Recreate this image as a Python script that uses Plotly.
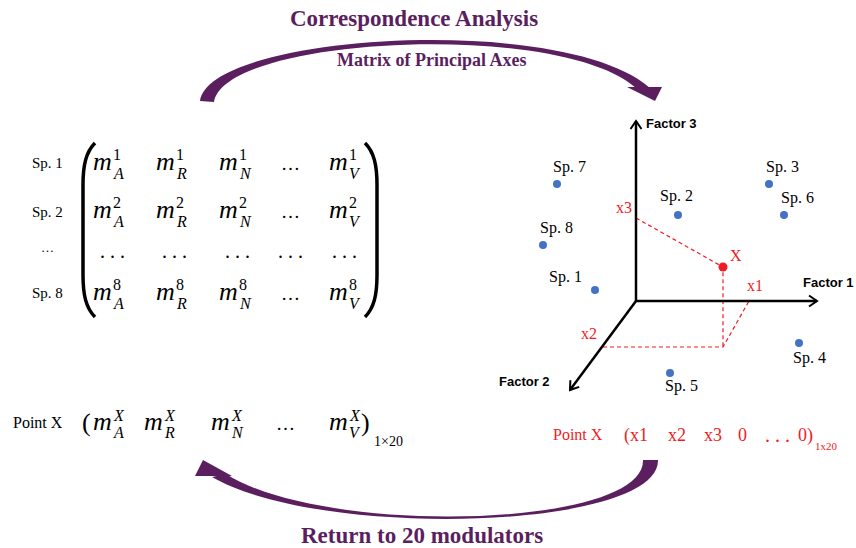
import math
import plotly.graph_objects as go

# ---------------- data ----------------
row_labels = ["Sp. 1", "Sp. 2", "…", "Sp. 8"]
row_sup = ["1", "2", None, "8"]          # None -> row of dots
col_sub = ["A", "R", "N", None, "V"]     # None -> column of dots
point_sup = "X"
point_dim = "1×20"

species = ["Sp. 1", "Sp. 2", "Sp. 3", "Sp. 4", "Sp. 5", "Sp. 6", "Sp. 7", "Sp. 8"]
sp_x = [595, 678, 769, 799, 670, 784, 557, 543]
sp_y = [290, 215, 184, 343, 373, 215, 184, 245]

point_x, point_y = 723, 267
proj_names = ["x1", "x2", "x3"]
proj_x = [749, 603, 636]
proj_y = [301, 347, 218]
foot_x, foot_y = 723, 347

red_tokens = ["(x1", "x2", "x3", "0", ". . .", "0)"]

title_top = "Correspondence Analysis"
subtitle_top = "Matrix of Principal Axes"
title_bottom = "Return to 20 modulators"

# ---------------- style / layout ----------------
W, H = 856, 548
PURPLE = "#5B1F5F"
RED = "#EE1C25"
BLUE = "#4472C4"
SERIF = "Liberation Serif, Times New Roman, serif"
SANS = "Liberation Sans, Arial, sans-serif"

origin = (636, 301)
axis_ends = {"Factor 1": (817, 301), "Factor 2": (570, 390), "Factor 3": (636, 121)}
axis_label_pos = {"Factor 1": (802, 287), "Factor 2": (498, 386), "Factor 3": (645, 128)}

col_x = [102, 165, 228, 290.5, 338]
dots_row_x = [112.5, 174, 237, 290.5, 344]
row_base = [170, 218, 258, 300]
label_base = [168, 217, 252, 298]

sp_label_dx = [-30, -2, 13, 10, 11, 13, 12, 13]
sp_label_dy = [-13, -19, -17, 15, 13, -17, -17, -17]

point_col_x = [102, 153, 220, 285.5, 338]
red_tok_x = [635.5, 677, 712.5, 742.5, 777.5, 805.5]

annotations = []


def txt(x, base, s, size, color="black", family=SERIF, anchor="center",
        bold=False, italic=False, middle=False):
    if italic:
        s = f"<i>{s}</i>"
    if bold:
        s = f"<b>{s}</b>"
    y = base if middle else base - 0.34 * size
    annotations.append(dict(x=x, y=y, text=s, showarrow=False, xanchor=anchor,
                            yanchor="middle", borderpad=0,
                            font=dict(size=size, color=color, family=family)))


fig = go.Figure()

# ---- titles
txt(414, 26.5, title_top, 23, PURPLE, bold=True)
txt(431, 66.5, subtitle_top, 18, PURPLE, bold=True)
txt(422, 543, title_bottom, 23, PURPLE, bold=True)

# ---- curved arrows
shapes = []
shapes.append(dict(type="path", fillcolor=PURPLE, line=dict(width=0),
                   path="M 200,101 C 208,34 565,12 650,88 L 636,88 "
                        "C 560,20 225,36 214,102 Z"))
shapes.append(dict(type="path", fillcolor=PURPLE, line=dict(width=0),
                   path="M 627,87 L 662,87 L 655,101 Z"))
shapes.append(dict(type="path", fillcolor=PURPLE, line=dict(width=0),
                   path="M 658,460 C 660,530 320,540 212,477 L 226,474 "
                        "C 325,537 645,528 643,460 Z"))
shapes.append(dict(type="path", fillcolor=PURPLE, line=dict(width=0),
                   path="M 203,460 L 195,476 L 232,476 Z"))

# ---- matrix brackets
shapes.append(dict(type="path", line=dict(color="black", width=3.5),
                   path="M 95,143 C 86,152 83,165 83,185 L 83,275 "
                        "C 83,295 86,308 95,317"))
shapes.append(dict(type="path", line=dict(color="black", width=3.5),
                   path="M 365,143 C 374,152 377,165 377,185 L 377,275 "
                        "C 377,295 374,308 365,317"))

# ---- matrix content
for r, lab in enumerate(row_labels):
    txt(47, label_base[r], lab, 15 if lab != "…" else 13)
    for c, sub in enumerate(col_sub):
        if row_sup[r] is None:
            txt(dots_row_x[c], row_base[r], ". . .", 20)
        elif sub is None:
            txt(col_x[c], row_base[r], "…", 19)
        else:
            txt(col_x[c], row_base[r], "m", 26, italic=True)
            txt(col_x[c] + 10, row_base[r] - 10, row_sup[r], 16, anchor="left")
            txt(col_x[c] + 10, row_base[r] + 8.5, sub, 16, anchor="left", italic=True)

# ---- point X row (black)
txt(37.5, 428, "Point X", 16)
txt(86, 431, "(", 26)
for c, sub in enumerate(col_sub):
    if sub is None:
        txt(point_col_x[c], 430, "…", 19)
    else:
        txt(point_col_x[c], 430, "m", 26, italic=True)
        txt(point_col_x[c] + 10, 421, point_sup, 16, anchor="left", italic=True)
        txt(point_col_x[c] + 10, 438, sub, 16, anchor="left", italic=True)
txt(365, 431, ")", 26)
txt(373, 446.5, point_dim, 14, anchor="left")

# ---- point X row (red)
txt(577.5, 440, "Point X", 16, RED)
for tok, x in zip(red_tokens, red_tok_x):
    txt(x, 441.5, tok, 20 if tok.startswith(".") else 18, RED)
txt(814, 450, "1x20", 11, RED, anchor="left")

# ---- factor axes
for name, (ex, ey) in axis_ends.items():
    shapes.append(dict(type="line", x0=origin[0], y0=origin[1], x1=ex, y1=ey,
                       line=dict(color="black", width=2.5)))
    dx, dy = ex - origin[0], ey - origin[1]
    n = math.hypot(dx, dy)
    ux, uy = dx / n, dy / n
    bx, by = ex - 8 * ux, ey - 8 * uy
    shapes.append(dict(type="path", line=dict(color="black", width=2),
                       path=f"M {bx - 5.5 * uy},{by + 5.5 * ux} L {ex},{ey} "
                            f"L {bx + 5.5 * uy},{by - 5.5 * ux}"))
    lx, lb = axis_label_pos[name]
    txt(lx, lb, name, 13, family=SANS, anchor="left", bold=True)

# ---- projections of X (dashed)
dash_x = [proj_x[2], point_x, foot_x, None, proj_x[1], foot_x, proj_x[0]]
dash_y = [proj_y[2], point_y, foot_y, None, proj_y[1], foot_y, proj_y[0]]
fig.add_trace(go.Scatter(x=dash_x, y=dash_y, mode="lines", hoverinfo="skip",
                         line=dict(color=RED, width=1.2, dash="4px,3px")))

label_off = {"x1": (6, -16), "x2": (-14, -14), "x3": (-12, -11)}
for nm, px, py in zip(proj_names, proj_x, proj_y):
    ox, oy = label_off[nm]
    txt(px + ox, py + oy, nm, 16, RED, middle=True)

# ---- species points
fig.add_trace(go.Scatter(x=sp_x, y=sp_y, mode="markers", text=species,
                         marker=dict(color=BLUE, size=8)))
for s, x, y, dx, dy in zip(species, sp_x, sp_y, sp_label_dx, sp_label_dy):
    txt(x + dx, y + dy, s, 16, middle=True)

fig.add_trace(go.Scatter(x=[point_x], y=[point_y], mode="markers",
                         marker=dict(color=RED, size=9)))
txt(point_x + 13, point_y - 12, "X", 16, RED, middle=True)

fig.update_layout(
    width=W, height=H,
    margin=dict(l=0, r=0, t=0, b=0),
    paper_bgcolor="white", plot_bgcolor="white",
    showlegend=False,
    shapes=shapes,
    annotations=annotations,
    xaxis=dict(range=[0, W], visible=False, fixedrange=True),
    yaxis=dict(range=[H, 0], visible=False, fixedrange=True),
)

# drop the page's default body margin so the figure fills the window exactly
fig.write_html("out.html", config={"displayModeBar": False},
               post_script="document.body.style.margin='0';"
                           "document.documentElement.style.overflow='hidden';")
